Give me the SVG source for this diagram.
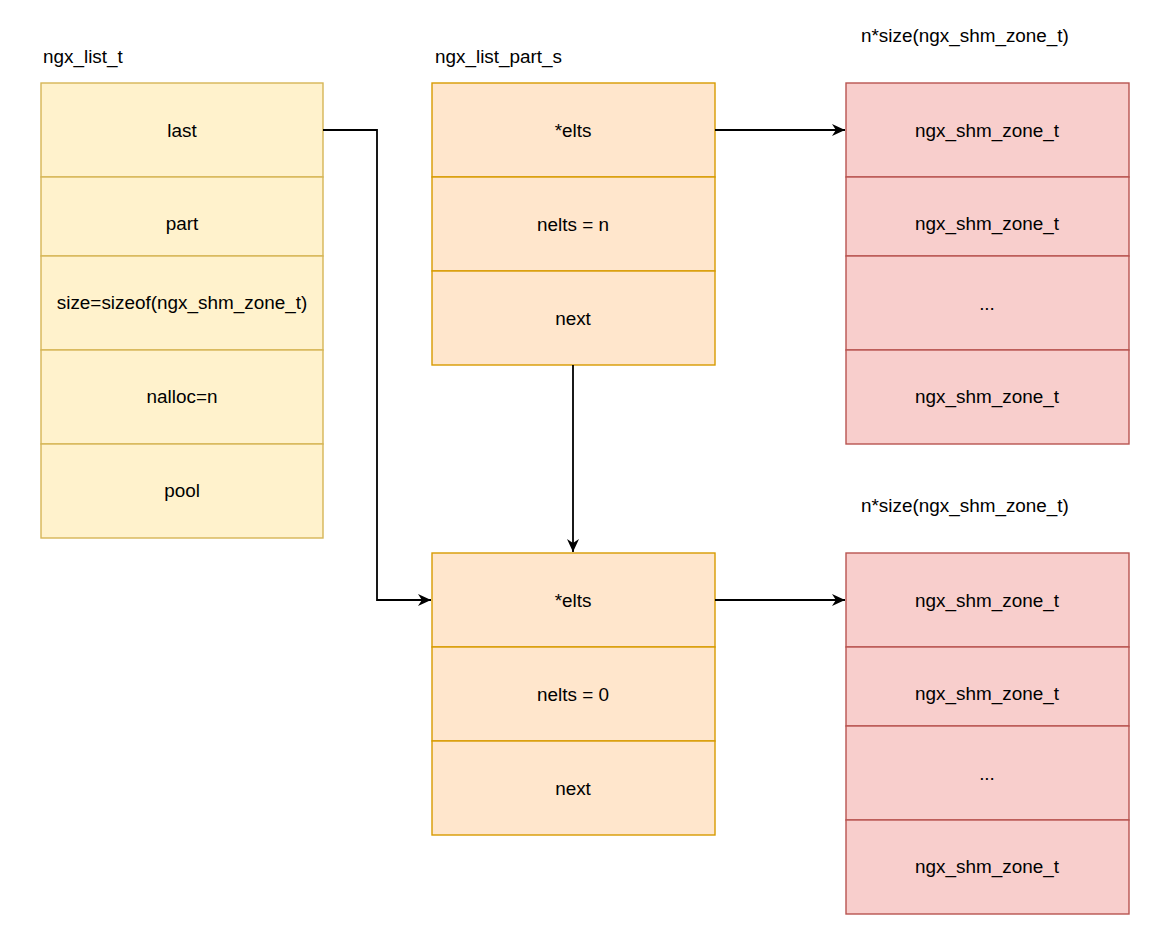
<svg xmlns="http://www.w3.org/2000/svg" width="1164" height="946" viewBox="0 0 1164 946">
<style>
text{font-family:"Liberation Sans",Arial,sans-serif;font-size:18.9px;fill:#000}
.c{text-anchor:middle;dominant-baseline:central}
.y{fill:#fff2cc;stroke:#d6b656;stroke-width:1.4}
.o{fill:#ffe6cc;stroke:#d79b00;stroke-width:1.4}
.r{fill:#f8cecc;stroke:#b85450;stroke-width:1.4}
.e{fill:none;stroke:#000;stroke-width:1.8}
</style>
<defs>
<marker id="ah" viewBox="0 0 10 10" refX="10" refY="5" markerWidth="13" markerHeight="12" markerUnits="userSpaceOnUse" orient="auto" preserveAspectRatio="none">
<path d="M0,0 L10,5 L0,10 L3,5 Z" fill="#000"/>
</marker>
</defs>
<rect width="1164" height="946" fill="#fff"/>
<g id="labels">
<text x="43" y="63">ngx_list_t</text>
<text x="435" y="63">ngx_list_part_s</text>
<text x="861" y="42">n*size(ngx_shm_zone_t)</text>
<text x="861" y="512">n*size(ngx_shm_zone_t)</text>
</g>
<g id="ngx_list_t">
<rect class="y" x="41" y="83" width="282" height="94"/><text class="c" x="182" y="130">last</text>
<rect class="y" x="41" y="177" width="282" height="79"/><text class="c" x="182" y="223">part</text>
<rect class="y" x="41" y="256" width="282" height="94"/><text class="c" x="182" y="302">size=sizeof(ngx_shm_zone_t)</text>
<rect class="y" x="41" y="350" width="282" height="94"/><text class="c" x="182" y="396">nalloc=n</text>
<rect class="y" x="41" y="444" width="282" height="94"/><text class="c" x="182" y="490">pool</text>
</g>
<g id="part1">
<rect class="o" x="432" y="83" width="283" height="94"/><text class="c" x="573" y="130">*elts</text>
<rect class="o" x="432" y="177" width="283" height="94"/><text class="c" x="573" y="224">nelts = n</text>
<rect class="o" x="432" y="271" width="283" height="94"/><text class="c" x="573" y="318">next</text>
</g>
<g id="part2">
<rect class="o" x="432" y="553" width="283" height="94"/><text class="c" x="573" y="600">*elts</text>
<rect class="o" x="432" y="647" width="283" height="94"/><text class="c" x="573" y="694">nelts = 0</text>
<rect class="o" x="432" y="741" width="283" height="94"/><text class="c" x="573" y="788">next</text>
</g>
<g id="zones1">
<rect class="r" x="846" y="83" width="283" height="94"/><text class="c" x="987" y="130">ngx_shm_zone_t</text>
<rect class="r" x="846" y="177" width="283" height="79"/><text class="c" x="987" y="223">ngx_shm_zone_t</text>
<rect class="r" x="846" y="256" width="283" height="94"/><text class="c" x="987" y="303">...</text>
<rect class="r" x="846" y="350" width="283" height="94"/><text class="c" x="987" y="396">ngx_shm_zone_t</text>
</g>
<g id="zones2">
<rect class="r" x="846" y="553" width="283" height="94"/><text class="c" x="987" y="600">ngx_shm_zone_t</text>
<rect class="r" x="846" y="647" width="283" height="79"/><text class="c" x="987" y="693">ngx_shm_zone_t</text>
<rect class="r" x="846" y="726" width="283" height="94"/><text class="c" x="987" y="773">...</text>
<rect class="r" x="846" y="820" width="283" height="94"/><text class="c" x="987" y="866">ngx_shm_zone_t</text>
</g>
<g id="connectors">
<path class="e" d="M323,130 H377 V600 H431" marker-end="url(#ah)"/>
<path class="e" d="M715,130 H845" marker-end="url(#ah)"/>
<path class="e" d="M573,365 V552" marker-end="url(#ah)"/>
<path class="e" d="M715,600 H845" marker-end="url(#ah)"/>
</g>
</svg>
